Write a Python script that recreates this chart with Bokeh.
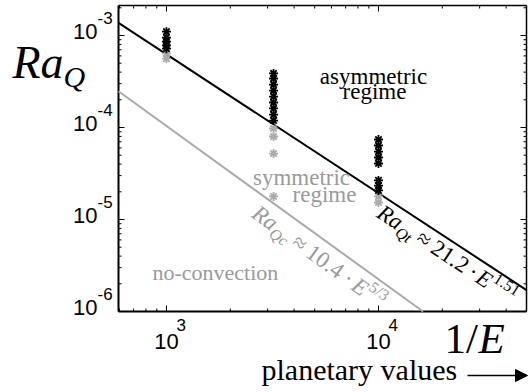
import math
from bokeh.plotting import figure
from bokeh.models import Label, Arrow, NormalHead
from bokeh.embed import file_html
from bokeh.resources import INLINE

# ---------------- data ----------------
inv_E_black = [1000] * 5 + [3200] * 9 + [10000] * 8
RaQ_black = [1.10e-3, 9.5e-4, 8.6e-4, 7.8e-4, 7.2e-4,
             3.87e-4, 3.41e-4, 2.93e-4, 2.52e-4, 2.17e-4, 1.87e-4, 1.61e-4, 1.38e-4, 1.19e-4,
             7.41e-5, 6.37e-5, 5.48e-5, 4.72e-5, 4.06e-5, 2.66e-5, 2.34e-5, 2.07e-5]
inv_E_gray = [1000] * 2 + [3200] * 4 + [10000] * 2
RaQ_gray = [6.4e-4, 5.6e-4,
            9.75e-5, 7.98e-5, 5.21e-5, 1.78e-5,
            1.78e-5, 1.53e-5]

# fit lines (end points)
transition_x = [594, 49900]
transition_y = [1.37e-3, 1.71e-6]      # RaQt ~ 21.2 E^1.51
onset_x = [594, 16230]
onset_y = [2.48e-4, 1.0e-6]            # RaQc ~ 10.4 E^5/3

x_tick_values = [1e3, 1e4]
x_tick_exps = ["3", "4"]
y_tick_values = [1e-3, 1e-4, 1e-5, 1e-6]
y_tick_exps = ["-3", "-4", "-5", "-6"]

# ---------------- geometry (pixels in the picture) ----------------
W, H = 528, 392
L, R, T, B = 118, 526, 5, 311            # plot box
X_LO, X_HI = 594.0, 49900.0              # data at box edges
Y_LO, Y_HI = 1e-6, 10 ** (-6 + (B - T) / 92)
lx0, lx1 = math.log10(X_LO), math.log10(X_HI)
ly0, ly1 = math.log10(Y_LO), math.log10(Y_HI)


def xd(px):
    return 10 ** (lx0 + (px - L) / (R - L) * (lx1 - lx0))


def yd(py):
    return 10 ** (ly0 + (B - py) / (B - T) * (ly1 - ly0))


def xp(v):
    return L + (math.log10(v) - lx0) / (lx1 - lx0) * (R - L)


def yp(v):
    return B - (math.log10(v) - ly0) / (ly1 - ly0) * (B - T)


GRAY = "#aaaaaa"
GRAY_TXT = "#9a9a9a"
SERIF = "Liberation Serif"
SANS = "Liberation Sans"

p = figure(width=W, height=H, x_axis_type="log", y_axis_type="log",
           x_range=(xd(0), xd(W)), y_range=(yd(H), yd(0)),
           x_axis_location=None, y_axis_location=None,
           output_backend="svg", toolbar_location=None,
           min_border=0)
p.outline_line_color = None
p.grid.visible = False
p.background_fill_color = "white"
p.border_fill_color = "white"

# ---------------- box and inward ticks ----------------
major_x = list(x_tick_values)
minor_x = [k * 10 ** d for d in (2, 3, 4) for k in range(2, 10) if X_LO < k * 10 ** d < X_HI]
major_y = list(y_tick_values)
minor_y = [k * 10 ** d for d in (-6, -5, -4, -3) for k in range(2, 10) if Y_LO < k * 10 ** d < Y_HI]

MAJ, MIN = 6, 3
sx0, sy0, sx1, sy1 = [], [], [], []
for v, ln in [(v, MAJ) for v in major_x] + [(v, MIN) for v in minor_x]:
    sx0 += [v, v]; sx1 += [v, v]
    sy0 += [Y_LO, Y_HI]; sy1 += [yd(B - ln), yd(T + ln)]
for v, ln in [(v, MAJ) for v in major_y] + [(v, MIN) for v in minor_y]:
    sy0 += [v, v]; sy1 += [v, v]
    sx0 += [X_LO, X_HI]; sx1 += [xd(L + ln), xd(R - ln)]
p.segment(sx0, sy0, sx1, sy1, line_color="black", line_width=1)

p.segment([X_LO, X_LO], [Y_LO, Y_LO], [X_LO, X_HI], [Y_HI, Y_LO], line_color="black", line_width=2)
p.segment([X_HI, X_LO], [Y_LO, Y_HI], [X_HI, X_HI], [Y_HI, Y_HI], line_color="black", line_width=1.5)

# ---------------- lines & markers ----------------
p.line(onset_x, onset_y, line_color=GRAY, line_width=2)
p.line(transition_x, transition_y, line_color="black", line_width=2)
p.scatter(inv_E_gray, RaQ_gray, marker="asterisk", size=9, line_width=1.8, line_color=GRAY)
p.scatter(inv_E_black, RaQ_black, marker="asterisk", size=9, line_width=1.8, line_color="black")

K_BASE = 0.32   # empirical baseline correction (fraction of font size)


def add_text(px, py, text, size, font=SERIF, style="normal", color="black",
             align="left", angle=0.0):
    # (px, py) is the wanted alphabetic baseline point in picture pixels
    px -= K_BASE * size * math.sin(angle)
    py -= K_BASE * size * math.cos(angle)
    p.add_layout(Label(x=px, y=py, x_units="canvas", y_units="canvas",
                       text=text, text_font_size=f"{size}px",
                       text_font=font, text_font_style=style, text_color=color,
                       text_align=align, text_baseline="alphabetic", angle=angle))


# tick labels
for v, e in zip(x_tick_values, x_tick_exps):
    px = xp(v)
    add_text(px, B + 37, "10", 22, font=SANS, align="center")
    add_text(px + 10, B + 19, e, 17, font=SANS)
for v, e in zip(y_tick_values, y_tick_exps):
    py = yp(v)
    add_text(97, py + 3, "10", 22, font=SANS, align="right")
    add_text(97, py - 12, e, 17, font=SANS)

# axis titles
add_text(12, 77, "Ra", 46, style="italic")
add_text(63, 86, "Q", 30, style="italic")
add_text(444, 352, "1/", 43)
add_text(478, 352, "E", 43, style="italic")
add_text(261, 379, "planetary values", 30)
p.add_layout(Arrow(x_start=467, y_start=375, x_end=527, y_end=375,
                   start_units="canvas", end_units="canvas",
                   line_width=1.5, line_color="black",
                   end=NormalHead(size=12, fill_color="black", line_color="black")))

# region texts
add_text(373, 83, "asymmetric", 23, align="center")
add_text(374, 98, "regime", 23, align="center")
add_text(301, 184, "symmetric", 23, align="center", color=GRAY_TXT)
add_text(324, 201, "regime", 23, align="center", color=GRAY_TXT)
add_text(152, 279, "no-convection", 22, color=GRAY_TXT)

# rotated fit labels
W_REG = {" ": .25, ".": .25, "·": .25, "≈": .549, "/": .278}
W_IT = {"R": .611, "a": .5, "Q": .722, "t": .278, "c": .444, "E": .611}


def tw(text, size, style):
    tab = W_IT if style == "italic" else W_REG
    return sum(tab.get(ch, .5) for ch in text) * size


def math_label(start, angle_deg, pieces, color):
    a = math.radians(angle_deg)
    dx, dy = math.cos(a), math.sin(a)
    ux, uy = math.sin(a), -math.cos(a)
    s = 0.0
    for text, size, style, shift, gap in pieces:
        px = start[0] + s * dx + shift * ux
        py = start[1] + s * dy + shift * uy
        add_text(px, py, text, size, style=style, color=color, angle=-a)
        s += tw(text, size, style) + gap


math_label((375, 216), 33.2, [
    ("Ra", 23, "italic", 0, 0), ("Qt", 16, "italic", -5, 5), ("≈", 23, "normal", 0, 5),
    ("21.2", 23, "normal", 0, 4), ("·", 23, "normal", 0, 4), ("E", 23, "italic", 0, 1),
    ("1.51", 16, "normal", 10, 0)], "black")
math_label((250, 216), 35.9, [
    ("Ra", 23, "italic", 0, 0), ("Qc", 16, "italic", -5, 5), ("≈", 23, "normal", 0, 5),
    ("10.4", 23, "normal", 0, 5), ("·", 23, "normal", 0, 5), ("E", 23, "italic", 0, 1),
    ("5/3", 16, "normal", 10, 0)], GRAY_TXT)

open("out.html", "w").write(file_html(p, INLINE))
